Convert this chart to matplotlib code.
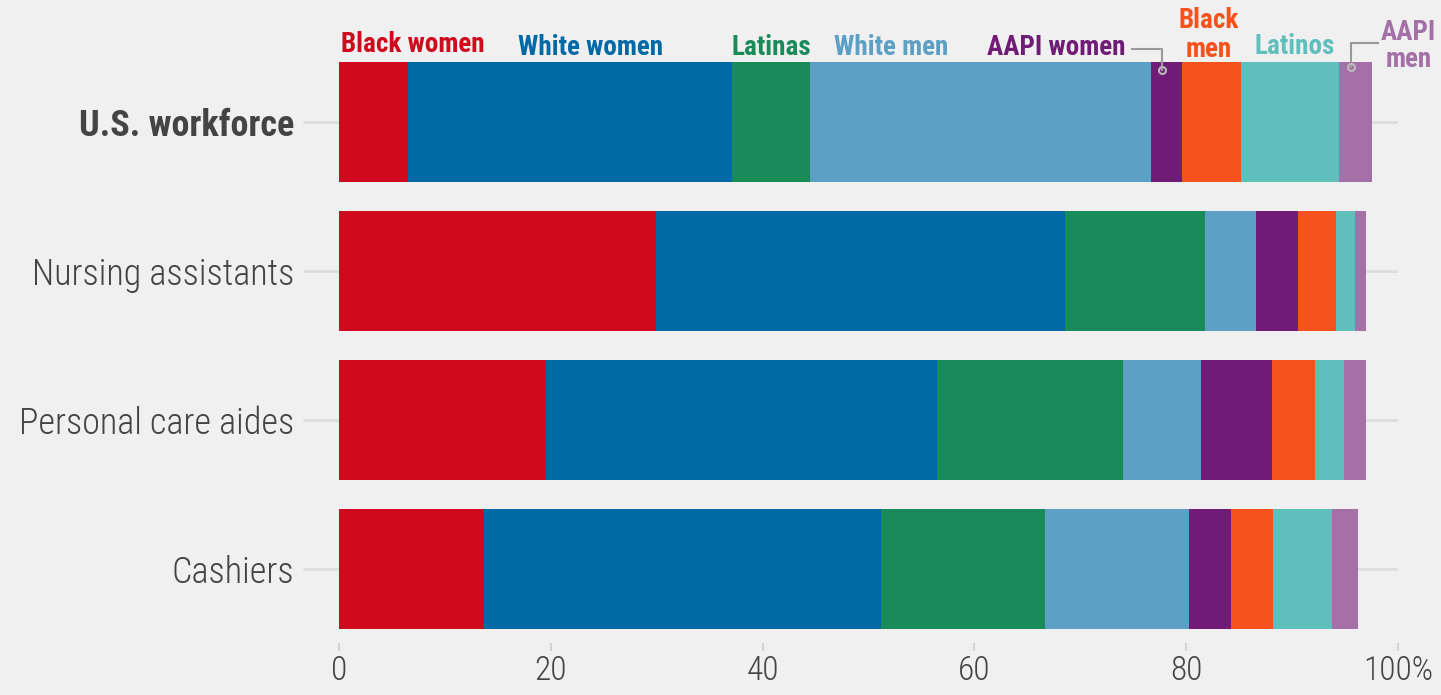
import numpy as np
import matplotlib
matplotlib.use("Agg")
import matplotlib.pyplot as plt
from matplotlib import font_manager

# ---- data (percent of workers in each group) ----
occupations = ["U.S. workforce", "Nursing assistants", "Personal care aides", "Cashiers"]
groups = ["Black women", "White women", "Latinas", "White men",
          "AAPI women", "Black men", "Latinos", "AAPI men"]
us_workforce = [6.5, 30.6, 7.4, 32.2, 2.9, 5.6, 9.2, 3.1]
nursing_assistants = [29.9, 38.7, 13.2, 4.8, 4.0, 3.5, 1.8, 1.1]
personal_care_aides = [19.5, 37.0, 17.5, 7.4, 6.7, 4.1, 2.7, 2.1]
cashiers = [13.7, 37.5, 15.5, 13.6, 3.9, 4.0, 5.6, 2.4]
xticks = [0, 20, 40, 60, 80, 100]
xtick_labels = ["0", "20", "40", "60", "80", "100%"]

colors = ["#CE0A1C", "#0069A6", "#188B59", "#5DA0C5",
          "#701C76", "#F5521E", "#5EBFBD", "#A470A7"]

# pick a condensed font if one exists
names = {f.name for f in font_manager.fontManager.ttflist}
fam = "Roboto Condensed" if "Roboto Condensed" in names else "Roboto"
plt.rcParams["font.family"] = [fam, "DejaVu Sans"]

BG = "#F0F0F0"
fig = plt.figure(figsize=(14.41, 6.95), dpi=100, facecolor=BG)
W, H = 1441, 695
ax = fig.add_axes([339 / W, (H - 643) / H, (1398 - 339) / W, 643 / H])
ax.set_facecolor(BG)

rows = [us_workforce, nursing_assistants, personal_care_aides, cashiers]
y = np.arange(len(occupations))
left = np.zeros(len(occupations))
for j, g in enumerate(groups):
    vals = np.array([r[j] for r in rows])
    ax.barh(y, vals, left=left, height=0.8, color=colors[j], zorder=3)
    left += vals

ax.set_xlim(0, 100)
ax.set_ylim(3.497, -0.819)
ax.set_yticks(y)
ax.set_yticklabels(occupations, fontsize=26, color="#444444", fontweight="light")
ax.get_yticklabels()[0].set_fontweight("bold")
ax.set_xticks(xticks)
ax.set_xticklabels(xtick_labels, fontsize=24, color="#444444", fontweight="light")
ax.tick_params(axis="y", length=26, width=2, color="#DDDDDD", pad=6)
ax.tick_params(axis="x", length=6, width=1.2, color="#CCCCCC", pad=3)
ax.grid(True, axis="y", color="#DDDDDD", lw=2, zorder=0)
for s in ax.spines.values():
    s.set_visible(False)

# ---- group labels above the first bar ----
cum = np.cumsum(us_workforce)
mid = cum - np.array(us_workforce) / 2
lab = dict(fontsize=19.5, fontweight="bold", va="center", clip_on=False)
ax.text(0.2, -0.523, "Black women", color=colors[0], ha="left", **lab)
ax.text(23.8, -0.503, "White women", color=colors[1], ha="center", **lab)
ax.text(40.8, -0.497, "Latinas", color=colors[2], ha="center", **lab)
ax.text(52.1, -0.497, "White men", color=colors[3], ha="center", **lab)
ax.text(74.3, -0.497, "AAPI women", color=colors[4], ha="right", **lab)
ax.text(82.1, -0.584, "Black\nmen", color=colors[5], ha="center", linespacing=1.1, **lab)
ax.text(90.2, -0.51, "Latinos", color=colors[6], ha="center", **lab)
ax.text(101.0, -0.51, "AAPI\nmen", color=colors[7], ha="center", linespacing=1.0, **lab)

# leader lines for the narrow segments
lc = "#999999"
xw = mid[4] - 0.4
ax.plot([74.9, xw, xw], [-0.49, -0.49, -0.35], color=lc, lw=1.5, clip_on=False, zorder=4)
ax.plot([xw], [-0.35], marker="o", ms=5, mfc="none", mec="#BBBBBB", mew=1.5,
        clip_on=False, zorder=5)
xm = mid[7] - 0.4
ax.plot([98.1, xm, xm], [-0.53, -0.53, -0.37], color=lc, lw=1.5, clip_on=False, zorder=4)
ax.plot([xm], [-0.37], marker="o", ms=5, mfc="none", mec="#BBBBBB", mew=1.5,
        clip_on=False, zorder=5)

fig.savefig("out.png", dpi=100, facecolor=BG)
